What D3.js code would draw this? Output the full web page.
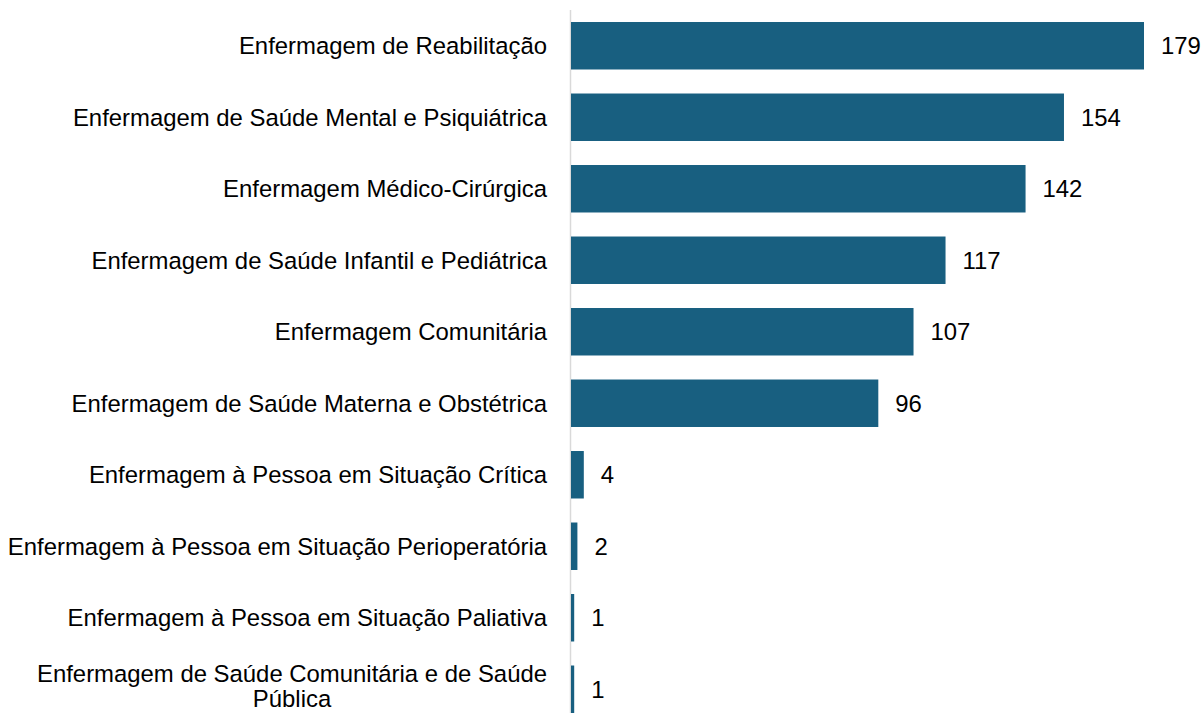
<!DOCTYPE html>
<html lang="pt">
<head>
<meta charset="UTF-8">
<title>Enfermagem - especialidades</title>
<script src="https://cdn.jsdelivr.net/npm/d3@7"></script>
<style>
    body { margin: 0; background: #ffffff; }
    svg { display: block; font-family: 'Liberation Sans', Arial, sans-serif; }
</style>
</head>
<body>
<svg id="chart" width="1204" height="713"></svg>
<script>
    // categories (top to bottom) and their counts
    const categories = [
        "Enfermagem de Reabilitação",
        "Enfermagem de Saúde Mental e Psiquiátrica",
        "Enfermagem Médico-Cirúrgica",
        "Enfermagem de Saúde Infantil e Pediátrica",
        "Enfermagem Comunitária",
        "Enfermagem de Saúde Materna e Obstétrica",
        "Enfermagem à Pessoa em Situação Crítica",
        "Enfermagem à Pessoa em Situação Perioperatória",
        "Enfermagem à Pessoa em Situação Paliativa",
        "Enfermagem de Saúde Comunitária e de Saúde Pública"
    ];
    const values = [179, 154, 142, 117, 107, 96, 4, 2, 1, 1];
    // labels that Excel wrapped onto two lines
    const wrapped = {
        "Enfermagem de Saúde Comunitária e de Saúde Pública": ["Enfermagem de Saúde Comunitária e de Saúde", "Pública"]
    };

    const data = categories.map((c, i) => ({ name: c, value: values[i] }));

    const svg = d3.select("#chart");
    const axisX = 571;
    const fontSize = 23.9;

    const x = d3.scaleLinear()
        .domain([0, 179])
        .range([axisX, 1144]);

    const y = d3.scaleBand()
        .domain(categories)
        .range([10, 725])
        .paddingInner(0.336)
        .paddingOuter(0.168);

    // vertical category axis line
    svg.append("line")
        .attr("x1", axisX - 0.5).attr("x2", axisX - 0.5)
        .attr("y1", y.range()[0]).attr("y2", 713)
        .attr("stroke", "#d9d9d9")
        .attr("stroke-width", 1.5);

    svg.selectAll(".bar")
        .data(data)
        .enter().append("rect")
        .attr("class", "bar")
        .attr("x", x(0))
        .attr("y", d => y(d.name))
        .attr("width", d => Math.max(1.5, x(d.value) - x(0)))
        .attr("height", y.bandwidth())
        .attr("fill", "#185f80");

    // value labels
    svg.selectAll(".val")
        .data(data)
        .enter().append("text")
        .attr("class", "val")
        .attr("x", d => x(d.value) + 17)
        .attr("y", d => y(d.name) + y.bandwidth() / 2)
        .attr("dy", "0.35em")
        .attr("font-size", fontSize)
        .attr("fill", "#000")
        .text(d => d.value);

    // category labels
    const labelRight = 547;
    data.forEach(d => {
        const cy = y(d.name) + y.bandwidth() / 2;
        const lines = wrapped[d.name];
        if (!lines) {
            svg.append("text")
                .attr("x", labelRight)
                .attr("y", cy)
                .attr("dy", "0.35em")
                .attr("text-anchor", "end")
                .attr("font-size", fontSize)
                .attr("fill", "#000")
                .text(d.name);
        } else {
            const first = svg.append("text")
                .attr("x", labelRight)
                .attr("y", cy - 16)
                .attr("dy", "0.35em")
                .attr("text-anchor", "end")
                .attr("font-size", fontSize)
                .attr("fill", "#000")
                .text(lines[0]);
            const w = first.node().getComputedTextLength();
            svg.append("text")
                .attr("x", labelRight - w / 2)
                .attr("y", cy + 9.5)
                .attr("dy", "0.35em")
                .attr("text-anchor", "middle")
                .attr("font-size", fontSize)
                .attr("fill", "#000")
                .text(lines[1]);
        }
    });
</script>
</body>
</html>
